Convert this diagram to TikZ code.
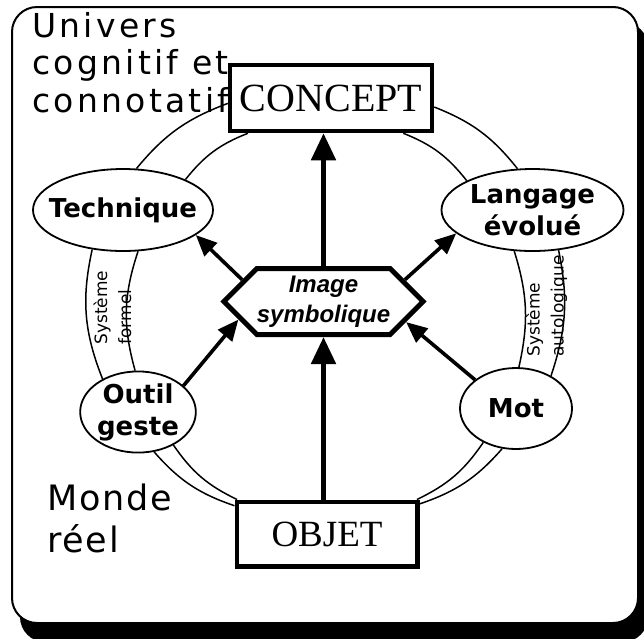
\documentclass[tikz,border=0pt]{standalone}
\usepackage{fontspec}
\setmainfont{Liberation Serif}
\setsansfont{Liberation Sans}
\newfontfamily\widesans{DejaVu Sans}[LetterSpace=10]
\newfontfamily\mondesans{DejaVu Sans}[LetterSpace=5]
\newfontfamily\boldsans{DejaVu Sans}
\usetikzlibrary{shapes.geometric,shapes.symbols,arrows.meta}

\tikzset{
  box/.style={draw, line width=4.5pt, inner sep=0pt},
  idea/.style={ellipse, draw, line width=1.8pt, inner sep=0pt, align=center,
    font=\boldsans\bfseries\fontsize{26}{32}\selectfont},
  ring/.style={line width=1.5pt},
  flow/.style={line width=5pt, -{Triangle[length=27pt,width=24pt]}},
  link/.style={line width=3.6pt, -{Triangle[length=21pt,width=18pt]}},
  sys/.style={rotate=90, align=left, inner sep=0pt, font=\boldsans\fontsize{17}{24}\selectfont}
}

\begin{document}
\begin{tikzpicture}[x=1pt,y=-1pt]
\useasboundingbox (0,0) rectangle (644,638);
\clip (0,0) rectangle (644,638);
\fill[rounded corners=25pt] (20,22) rectangle (648,642);
\draw[line width=2pt, fill=white, rounded corners=25pt] (12,7) rectangle (638,623);

\node[box, minimum width=202pt, minimum height=66pt, font=\fontsize{40}{48}\selectfont] (concept) at (331,98) {CONCEPT};
\node[box, minimum width=180.5pt, minimum height=64.5pt, font=\fontsize{37}{44}\selectfont] (objet) at (327,534) {OBJET};
\node[signal, signal to=east and west, signal pointer angle=90, draw, line width=5pt,
  minimum width=194pt, minimum height=66pt, inner sep=0pt, align=center,
  font=\sffamily\bfseries\itshape\fontsize{24}{30}\selectfont] (image) at (323.5,301.5) {Image\\symbolique};

\node[idea, minimum width=180pt, minimum height=82pt, inner xsep=-14pt] (tech) at (123,210) {Technique};
\node[idea, minimum width=182pt, minimum height=82pt] (lang) at (532.5,210) {Langage\\évolué};
\node[idea, minimum width=108pt, minimum height=78pt] (outil) at (138,412) {Outil\\geste};
\node[idea, minimum width=112pt, minimum height=81pt] (mot) at (516,408.5) {Mot};

\draw[ring] (tech.72) to[bend left=15] (concept.183);
\draw[ring] (tech.26) to[bend left=15] (concept.203);
\draw[ring] (concept.-5) to[bend left=15] (lang.110);
\draw[ring] (concept.-26) to[bend left=15] (lang.156);
\draw[ring] (lang.-57) to[bend left=15] (mot.43);
\draw[ring] (lang.246) to[bend left=15] (mot.86);
\draw[ring] (mot.251) to[bend left=15] (objet.18);
\draw[ring] (mot.226) to[bend left=15] (objet.21);
\draw[ring] (objet.163) to[bend left=15] (outil.292);
\draw[ring] (objet.159) to[bend left=15] (outil.317);
\draw[ring] (outil.137) to[bend left=17] (tech.232);
\draw[ring] (outil.94) to[bend left=17] (tech.290);

\node[sys] (sysf) at (112.5,307.5) {Système\\formel};
\node[sys] (sysa) at (546.5,306) {Système\\autologique};

\draw[flow] (image.north) -- (image.north |- concept.south);
\draw[flow] (image.south |- objet.north) -- (image.south);
\draw[link] (image.165) -- (tech.-19);
\draw[link] (image.15) -- (lang.197);
\draw[link] (outil.30) -- (image.192);
\draw[link] (mot.145) -- (image.346);

\node[anchor=north west, inner sep=0pt, align=left, font=\widesans\fontsize{33}{37.5}\selectfont] (univers) at (32,12) {Univers\\cognitif et\\connotatif};
\node[anchor=north west, inner sep=0pt, align=left, font=\mondesans\fontsize{35}{42}\selectfont] (monde) at (47,484) {Monde\\réel};
\end{tikzpicture}
\end{document}
